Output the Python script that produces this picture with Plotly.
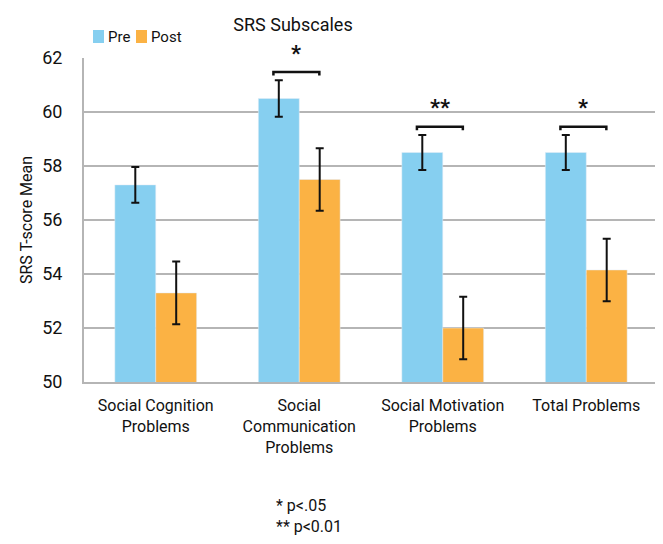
import plotly.graph_objects as go

categories = ["Social Cognition<br>Problems", "Social<br>Communication<br>Problems",
              "Social Motivation<br>Problems", "Total Problems"]
series_names = ["Pre", "Post"]
pre_values = [57.3, 60.5, 58.5, 58.5]
post_values = [53.3, 57.5, 52.0, 54.15]
pre_errors = [0.66, 0.68, 0.65, 0.65]
post_errors = [1.16, 1.16, 1.16, 1.16]
significance = ["", "*", "**", "*"]
y_ticks = [50, 52, 54, 56, 58, 60, 62]
y_range = [50, 62]

FONT = "Roboto, Liberation Sans, sans-serif"
PRE_COLOR = "#86cff0"
POST_COLOR = "#fbb244"
colors = [PRE_COLOR, POST_COLOR]

# page has an 8px body margin: figure is placed at (8, 8)
W, H = 655, 536
ML, MR, MT, MB = 76, 5, 50, 162
plot_w = W - ML - MR
plot_h = H - MT - MB
PX0, PY1 = 8 + ML, 8 + MT + plot_h  # screen position of plot-area left / bottom


def px_x(px):
    return (px - PX0) / plot_w


def px_y(py):
    return (PY1 - py) / plot_h


fig = go.Figure()
fig.add_trace(go.Bar(
    x=categories, y=pre_values, name=series_names[0], marker_color=PRE_COLOR,
    error_y=dict(type="data", array=pre_errors, color="#111111", thickness=2, width=4),
))
fig.add_trace(go.Bar(
    x=categories, y=post_values, name=series_names[1], marker_color=POST_COLOR,
    error_y=dict(type="data", array=post_errors, color="#111111", thickness=2, width=4),
))


def to_paper(v):
    return (v - y_range[0]) / (y_range[1] - y_range[0])


shapes = []
annotations = []
for i, sig in enumerate(significance):
    if not sig:
        continue
    top = pre_values[i] + pre_errors[i] + 0.3
    x0 = i - 0.18
    x1 = i + 0.14
    shapes.append(dict(type="path", xref="x", yref="y",
                       path=f"M {x0} {top-0.13} L {x0} {top} L {x1} {top} L {x1} {top-0.13}",
                       line=dict(color="#111111", width=2.5)))
    annotations.append(dict(x=i - 0.02, y=to_paper(top + 0.7), xref="x", yref="paper",
                            text=f"<b>{sig}</b>", yanchor="middle",
                            showarrow=False, font=dict(size=22, color="#111111", family=FONT)))

# legend (drawn as keys + labels, tightly spaced like the original)
legend_key_x = [93, 136]
for name, color, kx in zip(series_names, colors, legend_key_x):
    shapes.append(dict(type="rect", xref="paper", yref="paper",
                       x0=px_x(kx), x1=px_x(kx + 11), y0=px_y(43), y1=px_y(30),
                       fillcolor=color, line=dict(width=0)))
    annotations.append(dict(x=px_x(kx + 13), y=px_y(37), xref="paper", yref="paper",
                            text=name, xanchor="left", yanchor="middle", showarrow=False,
                            font=dict(size=15, color="#111111", family=FONT)))

annotations.append(dict(x=px_x(274), y=px_y(516), xref="paper", yref="paper",
                        text="* p<.05<br>** p<0.01", align="left", xanchor="left", yanchor="middle",
                        showarrow=False, font=dict(size=16, color="#111111", family=FONT)))

fig.update_layout(
    width=W, height=H,
    margin=dict(l=ML, r=MR, t=MT, b=MB),
    paper_bgcolor="white", plot_bgcolor="white",
    font=dict(family=FONT, size=16, color="#111111"),
    title=dict(text="SRS Subscales", x=(293 - 8) / W, xanchor="center", y=1 - (25 - 8) / H,
               yanchor="middle", font=dict(size=18, family=FONT, color="#111111")),
    barmode="group", bargap=0.43, bargroupgap=0,
    showlegend=False,
    shapes=shapes,
    annotations=annotations,
)
fig.update_yaxes(range=y_range, tickvals=y_ticks, showgrid=True, gridcolor="#b5b5b5", gridwidth=2,
                 showline=True, linecolor="#b5b5b5", linewidth=2, zeroline=False,
                 ticklabelstandoff=16, tickfont=dict(size=18),
                 title=dict(text="SRS T-score Mean", font=dict(size=16), standoff=6))
fig.update_xaxes(showline=True, linecolor="#b5b5b5", linewidth=2, showgrid=False,
                 tickfont=dict(size=16), ticklabelstandoff=8)

fig.write_html("out.html")
